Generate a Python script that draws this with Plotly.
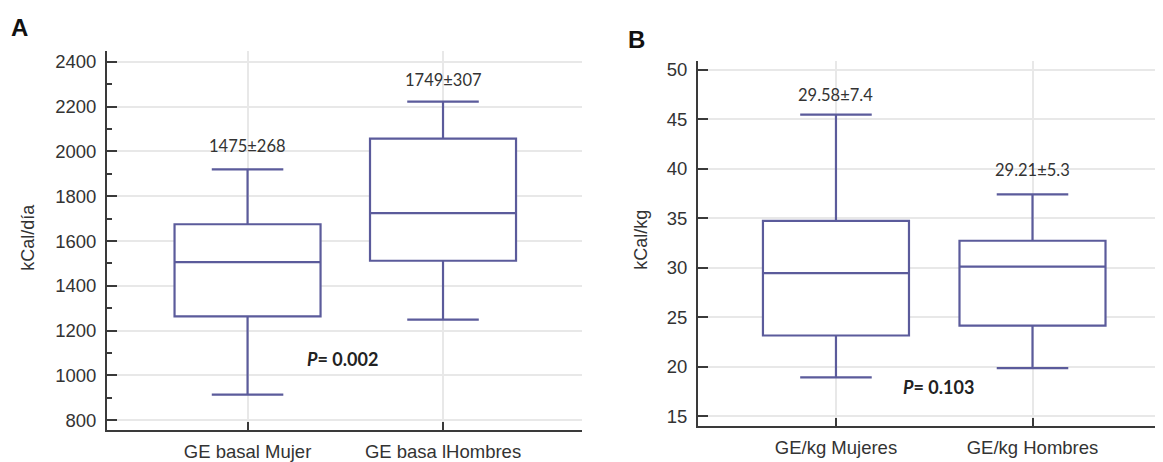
import plotly.graph_objects as go

# ---- data ----
cats_a = ["GE basal Mujer", "GE basa lHombres"]
lower_a = [914, 1249]
q1_a = [1264, 1512]
median_a = [1506, 1725]
q3_a = [1675, 2057]
upper_a = [1920, 2222]
labels_a = ["1475±268", "1749±307"]
label_y_a = [2025, 2317]
p_a = "0.002"

cats_b = ["GE/kg Mujeres", "GE/kg Hombres"]
lower_b = [18.9, 19.84]
q1_b = [23.14, 24.13]
median_b = [29.45, 30.1]
q3_b = [34.72, 32.71]
upper_b = [45.45, 37.4]
labels_b = ["29.58±7.4", "29.21±5.3"]
label_y_b = [47.43, 39.9]
p_b = "0.103"

# page body has an 8px margin; compensate so positions match the window
OFF = 8
W, H = 1163 - OFF, 462 - OFF


def px_x(X):
    return (X - OFF) / W


def px_y(Y):
    return 1 - (Y - OFF) / H


box_color = "#5b5b9b"
grid_color = "#e8e8e8"
axis_color = "#3a3a3a"
tick_font = dict(family="Liberation Sans, Arial", size=18.5, color="#333333")
ann_font = dict(family="Lato, Calibri", size=16.5, color="#333333")
p_font = dict(family="Lato, Calibri", size=18, color="#222222")

fig = go.Figure()

fig.add_trace(go.Box(
    x=cats_a, q1=q1_a, median=median_a, q3=q3_a,
    lowerfence=lower_a, upperfence=upper_a,
    xaxis="x", yaxis="y", width=0.747, whiskerwidth=0.49,
    fillcolor="white", line=dict(color=box_color, width=2.2),
    boxpoints=False, hoverinfo="skip", showlegend=False,
))
fig.add_trace(go.Box(
    x=cats_b, q1=q1_b, median=median_b, q3=q3_b,
    lowerfence=lower_b, upperfence=upper_b,
    xaxis="x2", yaxis="y2", width=0.743, whiskerwidth=0.49,
    fillcolor="white", line=dict(color=box_color, width=2.2),
    boxpoints=False, hoverinfo="skip", showlegend=False,
))

common_x = dict(type="category", showline=True, linecolor=axis_color, linewidth=2,
                showgrid=True, gridcolor=grid_color, gridwidth=2,
                ticks="inside", ticklen=8, tickwidth=1.5, tickcolor=axis_color,
                tickfont=tick_font, zeroline=False, ticklabelstandoff=4)
common_y = dict(showline=True, linecolor=axis_color, linewidth=2,
                showgrid=True, gridcolor=grid_color, gridwidth=2,
                ticks="inside", ticklen=10, tickwidth=1.5, tickcolor=axis_color,
                tickfont=tick_font, zeroline=False, ticklabelstandoff=5)

fig.update_layout(
    width=W, height=H,
    margin=dict(l=0, r=0, t=0, b=0),
    paper_bgcolor="white", plot_bgcolor="white",
    xaxis=dict(domain=[px_x(107), px_x(582)], range=[-0.719, 1.711], anchor="y", **common_x),
    yaxis=dict(domain=[px_y(437), px_y(50)], range=[758.5, 2448], anchor="x",
               tickvals=[800, 1000, 1200, 1400, 1600, 1800, 2000, 2200, 2400],
               minor=dict(ticks="inside", ticklen=5, dtick=100, tickcolor=axis_color,
                          showgrid=False),
               **common_y),
    xaxis2=dict(domain=[px_x(698), 1.0], range=[-0.702, 1.664], anchor="y2", **common_x),
    yaxis2=dict(domain=[px_y(433), px_y(60)], range=[14.03, 50.89], anchor="x2",
                tickvals=[15, 20, 25, 30, 35, 40, 45, 50],
                **common_y),
)

annotations = []
for i, t in enumerate(labels_a):
    annotations.append(dict(x=i, y=label_y_a[i], xref="x", yref="y", text=t,
                            showarrow=False, font=ann_font))
for i, t in enumerate(labels_b):
    annotations.append(dict(x=i, y=label_y_b[i], xref="x2", yref="y2", text=t,
                            showarrow=False, font=ann_font))
annotations.append(dict(x=0.486, y=1072, xref="x", yref="y",
                        text="<b><i>P</i>= " + p_a + "</b>", showarrow=False, font=p_font))
annotations.append(dict(x=0.52, y=17.95, xref="x2", yref="y2",
                        text="<b><i>P</i>= " + p_b + "</b>", showarrow=False, font=p_font))
# axis titles
annotations.append(dict(x=px_x(28), y=px_y(241), xref="paper", yref="paper",
                        xanchor="center", yanchor="middle",
                        text="kCal/día", textangle=-90, showarrow=False,
                        font=dict(family="Liberation Sans, Arial", size=18, color="#333333")))
annotations.append(dict(x=px_x(641), y=px_y(243), xref="paper", yref="paper",
                        xanchor="center", yanchor="middle",
                        text="kCal/kg", textangle=-90, showarrow=False,
                        font=dict(family="Liberation Sans, Arial", size=18, color="#333333")))
# panel letters
annotations.append(dict(x=px_x(19), y=px_y(26), xref="paper", yref="paper",
                        xanchor="center", yanchor="middle",
                        text="<b>A</b>", showarrow=False,
                        font=dict(family="Liberation Sans, Arial", size=24, color="#111111")))
annotations.append(dict(x=px_x(636), y=px_y(38), xref="paper", yref="paper",
                        xanchor="center", yanchor="middle",
                        text="<b>B</b>", showarrow=False,
                        font=dict(family="Liberation Sans, Arial", size=24, color="#111111")))

fig.update_layout(annotations=annotations)

fig.write_html("out.html", config={"displayModeBar": False})
